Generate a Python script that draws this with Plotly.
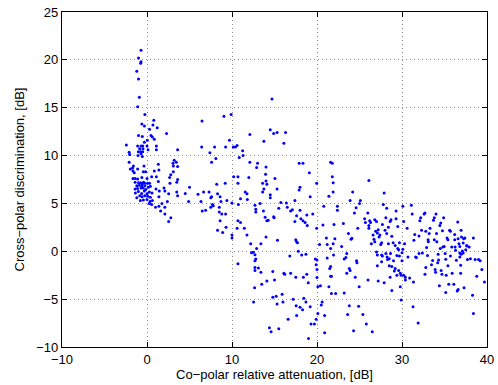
import plotly.graph_objects as go

# (co-polar relative attenuation [dB], cross-polar discrimination [dB])
left_points = [
    (-0.7, 21.0), (-1.0, 20.2), (-0.7, 19.8), (-0.75, 19.65), (-1.2, 18.8), (-1.0, 18.0), (-0.9, 16.1),
    (-1.1, 15.1), (-0.25, 14.3), (0.8, 13.7), (-0.6, 13.3), (0.7, 13.2), (-0.3, 13.1), (1.2, 12.9), (0.3, 12.75),
    (2.3, 12.3), (-1.0, 12.1), (0.47, 12.1), (0.63, 11.95), (0.86, 11.7), (-0.55, 12.0), (-0.31, 11.4), (0.04, 11.6),
    (-2.43, 11.1), (-1.1, 11.0), (-0.7, 11.0), (-0.5, 11.0), (0.0, 11.0), (1.1, 11.0),
    (-2.1, 10.35), (-2.04, 10.1), (-0.86, 10.7), (-0.47, 10.7), (-1.02, 10.4), (-0.74, 10.4), (-0.51, 10.4),
    (0.12, 10.6), (1.1, 10.6), (-0.7, 10.2), (-1.06, 10.0), (-0.55, 9.9), (3.6, 10.6),
    (-2.1, 9.3), (-1.6, 8.9), (-1.7, 8.7), (-1.96, 8.6), (-1.1, 8.6), (-1.65, 8.4), (-1.5, 8.2), (-0.35, 8.9),
    (1.33, 9.1), (1.4, 8.5), (0.86, 8.4), (3.2, 9.5), (3.06, 9.2), (3.45, 9.3), (3.6, 8.85), (3.1, 8.9),
    (3.1, 8.3), (2.8, 8.0), (1.1, 7.8), (2.66, 7.7), (-0.43, 8.3), (-0.16, 8.3),
    (-1.65, 7.6), (-1.4, 7.6), (-1.1, 7.55), (-0.6, 7.7), (0.0, 7.6), (-0.4, 7.2),
    (-1.4, 7.2), (-1.0, 7.15), (-0.75, 7.15), (-0.55, 7.05), (-0.3, 7.1), (0.05, 7.1), (0.3, 7.1), (0.55, 7.8),
    (1.33, 7.3), (3.6, 7.5), (3.5, 7.2), (2.7, 7.1),
    (-1.2, 6.85), (-0.9, 6.9), (-0.6, 6.85), (-0.25, 6.85), (0.4, 6.8), (0.15, 6.7),
    (-1.4, 6.5), (-1.1, 6.55), (-0.7, 6.6), (-0.45, 6.6), (-0.15, 6.45), (1.06, 6.5), (1.45, 6.3), (2.0, 6.6),
    (2.1, 6.3), (5.0, 6.7), (6.0, 5.96),
    (-1.37, 6.1), (-1.02, 6.25), (-0.63, 6.05), (-0.31, 6.3), (0.0, 6.0), (0.27, 6.2), (0.59, 6.1),
    (-1.2, 5.6), (-0.86, 5.8), (-0.59, 5.7), (-0.27, 5.8), (0.08, 5.75), (0.39, 5.65),
    (-0.78, 5.3), (-0.43, 5.35), (0.0, 5.4), (0.35, 5.2), (0.63, 5.3),
    (1.4, 5.7), (2.55, 6.0), (2.4, 5.2), (3.5, 6.2), (3.6, 5.8), (4.5, 6.05), (4.9, 5.2),
    (0.27, 5.0), (0.55, 4.9), (1.0, 4.6), (1.4, 4.7), (1.76, 5.0), (2.1, 4.6), (1.6, 4.2), (2.1, 3.9),
    (2.8, 3.5), (2.55, 3.1),
]

middle_points = [
    (6.35, 5.2), (6.47, 13.6), (6.43, 10.9), (6.66, 6.2), (6.9, 4.3), (6.5, 4.2), (7.3, 6.2), (7.5, 5.6),
    (7.6, 5.7), (7.4, 10.3), (7.6, 9.3), (7.95, 10.9), (8.1, 9.7), (7.7, 4.9), (7.8, 4.75), (7.5, 4.6),
    (8.2, 7.0), (8.3, 6.0), (8.6, 5.7), (8.7, 5.2), (8.3, 2.2), (8.5, 4.6), (8.5, 4.1), (8.8, 3.9),
    (8.6, 3.2), (8.9, 1.95), (9.05, 14.1), (9.25, 10.9), (9.2, 7.1), (9.4, 5.3), (9.25, 3.9), (9.3, 2.5),
    (9.7, 11.6), (9.9, 14.3), (10.0, 5.05), (10.0, 1.7), (10.0, 1.4), (10.15, 10.9), (10.4, 10.9), (10.6, 11.05),
    (10.2, 7.8), (10.7, 7.1), (10.7, 7.8), (10.6, 2.4), (10.7, -1.3), (10.7, 3.2), (11.0, 3.0), (10.75, 4.9),
    (10.85, 9.8), (11.0, 5.5), (11.25, 10.5), (11.3, 10.0), (11.45, 2.4), (11.56, 6.2), (11.76, 6.0), (11.76, 1.7),
    (11.8, 5.4), (11.98, 7.7), (12.1, 12.2), (12.1, 9.3), (12.2, 0.8), (12.3, -0.14), (12.5, -0.1), (12.7, -0.35),
    (12.8, -0.8), (12.7, -0.98), (12.9, 0.3), (12.66, -3.8), (12.54, -5.3), (12.7, -1.7), (13.1, -1.75), (12.7, -2.0),
    (12.7, 4.8), (12.8, 4.4), (12.8, 4.1), (12.9, 8.75), (13.0, 9.2), (13.3, 5.0), (13.4, 0.8), (13.4, -2.2),
    (13.5, -3.45), (13.6, 6.2), (13.75, 11.5), (13.7, 4.2), (14.0, 8.8), (14.0, 7.35), (13.6, 7.1), (13.75, 6.5),
    (13.9, 3.55), (13.95, 8.05), (14.1, 7.0), (14.1, 3.2), (14.26, 3.24), (14.0, 1.5), (14.1, -3.1), (14.5, 5.9),
    (14.5, 5.6), (14.4, -8.0), (14.6, -8.4), (14.5, 12.7), (14.7, 15.9), (14.8, -4.8), (14.8, -2.1), (14.9, 3.6),
    (14.95, 3.5), (14.9, 12.3), (15.3, 12.4), (15.05, 7.6), (15.2, -4.7), (15.3, -5.5), (15.3, 6.5), (15.35, 1.15),
    (15.0, -3.0), (15.5, -8.1), (15.75, 5.1), (15.5, 4.5), (15.9, -4.5), (16.0, -5.3), (16.1, 11.3), (16.1, -2.3),
    (16.2, -2.4), (16.3, 12.4), (16.4, 5.05), (16.5, 4.6), (16.6, -7.1), (16.8, -0.5), (16.9, -2.3), (16.9, 4.2),
    (17.1, 4.35), (17.2, -5.0), (17.4, 5.3), (17.4, 3.1), (17.5, 1.2), (17.7, 0.9), (17.6, 1.0), (17.5, -2.7),
    (17.55, -5.7), (17.6, 3.7), (17.8, 0.0), (17.6, -6.7), (17.9, 6.4), (18.0, 6.7), (17.9, 9.2), (18.0, 4.3),
    (18.0, -5.85), (18.1, 3.4), (18.35, 3.2), (18.2, -0.4), (18.3, -6.1), (18.35, 9.2), (18.45, -4.9), (18.7, -5.3),
    (18.4, -2.7), (18.6, 3.0), (18.7, -0.3), (18.8, -2.4), (18.8, 3.8), (18.85, 2.7), (18.97, -3.3), (19.1, 8.2),
    (19.2, -5.8), (19.0, -9.1), (19.2, 5.7), (19.3, -7.6), (19.5, 3.9), (19.7, -7.6), (19.8, -0.8), (19.9, -7.1),
    (19.96, 7.1), (19.96, 2.4), (20.0, -0.9), (19.9, -1.4), (20.0, -1.9), (20.0, -2.75),
]

right_points = [
    (20.1, -3.7), (20.1, -6.5), (20.4, -3.6), (20.3, 0.7), (20.5, -5.6), (20.6, -5.3), (20.7, 2.75), (20.8, 4.7),
    (20.9, -6.7), (20.9, -8.5), (21.1, 1.4), (21.2, 0.7), (21.2, -0.7), (21.4, -3.7), (21.4, 5.75), (21.5, -1.8),
    (21.6, -1.6), (21.6, -2.6), (21.7, -2.6), (21.6, 9.3), (21.8, 9.2), (21.6, 0.3), (21.7, -4.4), (21.8, 7.8),
    (21.9, 7.15), (21.9, 6.2), (21.9, 0.8), (21.95, -0.4), (22.0, 2.8), (22.1, 1.3), (22.2, -4.4), (22.4, 4.3),
    (22.4, 4.7), (22.9, 0.5), (23.1, 2.9), (23.2, -0.8), (23.2, -4.35), (23.4, -0.66), (23.5, -0.24), (23.5, -2.3),
    (23.7, 1.85), (23.6, -6.6), (23.8, -5.7), (23.8, -1.8), (23.9, -2.0), (24.0, 1.25), (24.1, 1.35), (23.9, 5.3),
    (24.2, 6.2), (24.3, -8.3), (24.4, 4.0), (24.5, -2.7), (24.6, 4.55), (24.65, -1.0), (24.7, -1.2), (24.8, 2.4),
    (24.9, -5.75), (24.96, -3.7), (25.0, 5.0), (25.1, 5.3), (25.4, -6.6), (25.6, 3.4), (25.7, 3.0), (25.8, -7.6),
    (25.98, 4.0), (26.0, -3.0), (26.1, 7.4), (26.2, 3.2), (26.3, 3.0), (26.1, 2.7), (26.1, 2.4), (26.5, -8.4),
    (26.4, 0.8), (26.6, 1.7), (26.7, 1.25), (26.8, 1.0), (26.8, 3.3), (27.0, 3.1), (26.9, 2.1), (27.1, 1.9),
    (27.2, 2.25), (27.0, -0.07), (27.1, -0.4), (27.1, -1.5), (27.2, -3.1), (27.3, 1.5), (27.4, 1.7), (27.5, 0.7),
    (27.6, 0.9), (27.6, -0.4), (27.7, -0.5), (27.6, -1.1), (27.7, 2.8), (27.8, 4.9), (27.9, 6.1), (27.9, -3.3),
    (28.0, 2.2), (28.1, -0.24), (28.2, 4.5), (28.1, 3.5), (28.2, 1.85), (28.25, -0.6), (28.3, -0.87), (28.4, 2.5),
    (28.4, 0.8), (28.5, -0.77), (28.5, -1.5), (28.6, -2.7), (28.6, 3.1), (28.7, 3.3), (28.65, -0.24), (28.8, -4.1),
    (28.8, -1.6), (28.8, 1.57), (28.96, 0.9), (29.0, -1.0), (29.1, -2.05), (29.2, -1.8), (29.2, 0.6), (29.3, 4.2),
    (29.3, 3.4), (29.4, -2.5), (29.4, -0.45), (29.5, 2.6), (29.5, 0.3), (29.6, 0.17), (29.6, -2.0), (29.8, -2.3),
    (29.9, -2.5), (29.7, 0.9), (29.7, -0.5), (29.8, -3.7), (29.9, -5.1), (30.0, -0.14), (30.0, -1.0), (30.1, 0.2),
    (30.1, 4.7), (30.2, 3.1), (30.2, -2.5), (30.4, -2.7), (30.3, 0.8), (30.4, -3.0), (30.6, 2.4), (30.7, -0.6),
    (30.9, -2.8), (31.1, 4.8), (31.2, 3.9), (31.3, -5.8), (31.35, -3.2), (31.4, 1.15), (31.5, 1.75), (31.6, -0.6),
    (31.7, -0.66), (31.9, -7.5), (32.0, 1.6), (32.0, -0.24), (32.1, 3.2), (32.2, 3.5), (32.3, 2.2), (32.4, -0.17),
    (32.6, 3.9), (32.7, 4.0), (32.7, -2.4), (32.8, -1.7), (32.8, 2.1), (32.9, 0.4), (33.0, -0.45), (33.07, 1.2),
    (33.1, 1.0), (33.2, 1.85), (33.3, 2.4), (33.47, -1.4), (33.6, -0.95), (33.7, 3.25), (33.8, 3.5), (33.8, 1.2),
    (33.9, -1.9), (33.95, -2.2), (34.0, 3.9), (34.06, 1.85), (34.1, 1.0), (34.2, -1.2), (34.3, -0.9), (34.25, -0.3),
    (34.4, -3.6), (34.45, 2.7), (34.56, 2.95), (34.5, 0.28), (34.6, -2.0), (34.7, -2.4), (34.76, 2.15), (34.8, 0.45),
    (34.96, 0.5), (34.9, 3.5), (35.07, -0.24), (35.15, -0.84), (35.15, -4.3), (35.2, -2.5), (35.3, 1.4), (35.4, 1.2),
    (35.4, -1.5), (35.5, -3.45), (35.6, 2.2), (35.7, 2.1), (35.7, -0.5), (35.85, 0.45), (35.9, -2.3), (36.1, -3.45),
    (36.2, 1.75), (36.2, 1.2), (36.25, 0.45), (36.3, 0.1), (36.4, -0.94), (36.5, -4.15), (36.6, -4.0), (36.56, 3.07),
    (36.6, 1.3), (36.7, 0.8), (36.8, 0.5), (36.8, -0.17), (36.8, -0.6), (36.95, -0.3), (36.9, -1.45), (36.9, -2.3),
    (36.95, 2.2), (37.0, 1.5), (37.1, 0.03), (37.2, -0.17), (37.2, 0.87), (37.25, 1.3), (37.4, 1.4), (37.3, -3.8),
    (37.5, 0.17), (37.6, 0.6), (37.65, 0.55), (37.7, -0.87), (37.9, 0.45), (38.05, -0.77), (38.3, -4.6), (38.4, -6.5),
    (38.4, 1.4), (38.6, -0.87), (38.8, -2.6), (39.0, -0.87), (39.2, -1.0), (39.4, -1.9), (39.7, -3.2),
]

x_ticks = [-10, 0, 10, 20, 30, 40]
y_ticks = [-10, -5, 0, 5, 10, 15, 20, 25]
x_label = "Co\u2212polar relative attenuation, [dB]"
y_label = "Cross\u2212polar discrimination, [dB]"

all_points = left_points + middle_points + right_points
xs = [p[0] for p in all_points]
ys = [p[1] for p in all_points]

fig = go.Figure(
    go.Scatter(
        x=xs, y=ys, mode="markers",
        marker=dict(color="#0000ff", size=3, line=dict(width=0)),
        hoverinfo="skip", showlegend=False,
    )
)

font_family = "Liberation Sans, Arial, Helvetica, sans-serif"
axis_common = dict(
    showline=True, linecolor="black", linewidth=1.3, mirror="ticks",
    ticks="inside", ticklen=5, tickcolor="black", tickwidth=1,
    showgrid=True, gridcolor="#8a8a8a", griddash="1px,3px", gridwidth=1,
    zeroline=False, automargin=False,
    tickfont=dict(family=font_family, size=13, color="black"),
)

fig.update_layout(
    width=498, height=385,
    margin=dict(l=62, r=11, t=12, b=38, autoexpand=False),
    paper_bgcolor="white", plot_bgcolor="white",
    font=dict(family=font_family, size=13, color="black"),
    xaxis=dict(range=[-10, 40], tickvals=x_ticks,
               title=dict(text=x_label, standoff=0, font=dict(size=13)), **axis_common),
    yaxis=dict(range=[-10, 25], tickvals=y_ticks,
               title=dict(text=y_label, standoff=8, font=dict(size=13)), **axis_common),
)

fig.write_html(
    "out.html",
    config={"displayModeBar": False},
    post_script="document.body.style.margin='0';document.body.style.overflow='hidden';",
)
